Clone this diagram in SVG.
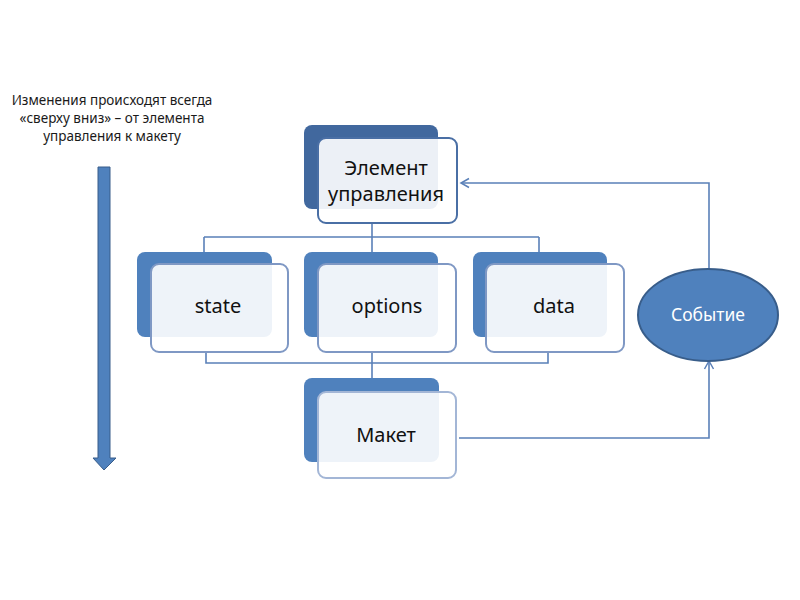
<svg xmlns="http://www.w3.org/2000/svg" width="800" height="600" viewBox="0 0 800 600">
<defs>
<style>
.back{fill:#4f81bd;}
.backTop{fill:#41689e;}
.front{fill:#ffffff;fill-opacity:0.9;stroke:#7f98c4;stroke-width:2;}
.frontTop{fill:#ffffff;fill-opacity:0.9;stroke:#4a6fa5;stroke-width:2;}
.frontLight{fill:#ffffff;fill-opacity:0.9;stroke:#a3b6d6;stroke-width:2;}
.lbl{font-family:"Noto Sans","Open Sans",sans-serif;font-size:20px;fill:#111;text-anchor:middle;}
.conn{fill:none;stroke:#5a80b8;stroke-width:1.6;}
.note{font-family:"Noto Sans","Open Sans",sans-serif;font-size:13.5px;fill:#1a1a1a;text-anchor:middle;}
</style>
<marker id="open" markerWidth="12" markerHeight="12" refX="10" refY="6" orient="auto" markerUnits="userSpaceOnUse">
<path d="M2,1.5 L10,6 L2,10.5" fill="none" stroke="#5a80b8" stroke-width="1.5"/>
</marker>
</defs>
<rect width="800" height="600" fill="#ffffff"/>

<g id="note">
<text class="note" x="112" y="105">Изменения происходят всегда</text>
<text class="note" x="112" y="123">«сверху вниз» – от элемента</text>
<text class="note" x="112" y="141">управления к макету</text>
</g>

<g id="down-arrow">
<path d="M98,167 L110,167 L110,458 L116,458 L104,470 L93,458 L98,458 Z" fill="#4f81bd" stroke="#385d8a" stroke-width="1"/>
</g>

<g id="connectors">
<path class="conn" d="M372,223 V237 M204,237 H539 M204,237 V252 M372,237 V252 M539,237 V252"/>
<path class="conn" d="M206,352 V363 H548 V352 M372,352 V378"/>
<path class="conn" d="M709,269 V183 H461" marker-end="url(#open)"/>
<path class="conn" d="M459,438 H709 V361" marker-end="url(#open)"/>
</g>

<g id="node-element">
<rect class="backTop" x="304" y="125" width="134" height="84" rx="8"/>
<rect class="frontTop" x="318" y="138" width="139" height="85" rx="8"/>
<text class="lbl" x="386" y="175">Элемент</text>
<text class="lbl" x="386" y="201">управления</text>
</g>

<g id="node-state">
<rect class="back" x="137" y="252" width="135" height="85" rx="8"/>
<rect class="front" x="151" y="264" width="137" height="88" rx="8"/>
<text class="lbl" x="218" y="313">state</text>
</g>

<g id="node-options">
<rect class="back" x="304" y="252" width="134" height="85" rx="8"/>
<rect class="front" x="318" y="264" width="138" height="88" rx="8"/>
<text class="lbl" x="387" y="313">options</text>
</g>

<g id="node-data">
<rect class="back" x="473" y="252" width="134" height="85" rx="8"/>
<rect class="front" x="486" y="264" width="138" height="88" rx="8"/>
<text class="lbl" x="554" y="313">data</text>
</g>

<g id="node-maket">
<rect class="back" x="304" y="378" width="135" height="84" rx="8"/>
<rect class="frontLight" x="318" y="392" width="138" height="86" rx="8"/>
<text class="lbl" x="386" y="442">Макет</text>
</g>

<g id="node-event">
<ellipse cx="708" cy="315" rx="70" ry="46" fill="#4f81bd" stroke="#385d8a" stroke-width="2"/>
<text x="708" y="321" font-family="Noto Sans, Open Sans, sans-serif" font-size="17.5" fill="#ffffff" text-anchor="middle">Событие</text>
</g>
</svg>
